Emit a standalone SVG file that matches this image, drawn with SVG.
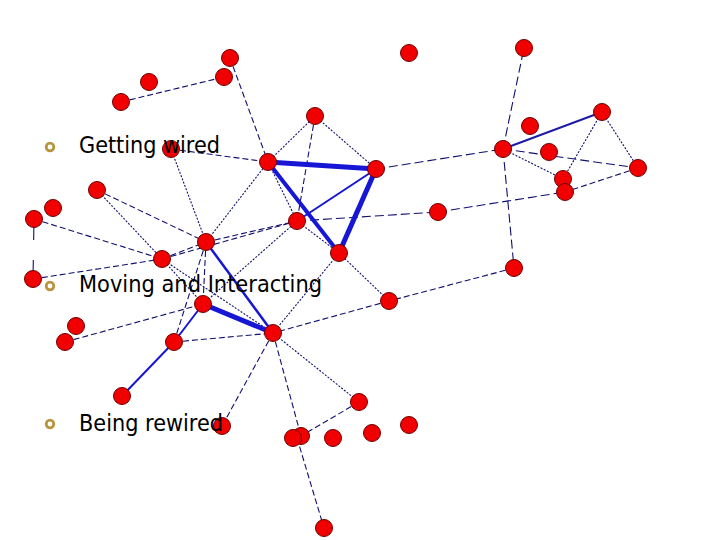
<svg xmlns="http://www.w3.org/2000/svg" width="720" height="540" viewBox="0 0 720 540">
<style>
.e{fill:none;stroke:#10106e;stroke-width:1.1}
.da{stroke-dasharray:6 3}
.dl{stroke-dasharray:9 4}
.dt{stroke-dasharray:2 1.5}
.b{fill:none;stroke:#1616d4}
.m{fill:none;stroke:#1c1ca8;stroke-width:2}
.n{fill:#f00000;stroke:#700000;stroke-width:1}
.t{font-family:"DejaVu Sans",Verdana,sans-serif;font-size:23px;fill:#000}
.bl{fill:none;stroke:#b8953f;stroke-width:2.8}
</style>
<rect width="720" height="540" fill="#fff"/>
<g id="connectors">
<line class="e da" x1="121" y1="102" x2="224" y2="77"/>
<line class="e da" x1="230" y1="58" x2="268" y2="162"/>
<line class="e da" x1="171" y1="149" x2="268" y2="162"/>
<line class="e dt" x1="171" y1="149" x2="206" y2="242"/>
<line class="e da" x1="97" y1="190" x2="206" y2="242"/>
<line class="e dt" x1="97" y1="190" x2="162" y2="259"/>
<line class="e da" x1="34" y1="219" x2="162" y2="259"/>
<line class="e" x1="34" y1="219" x2="33" y2="279" stroke-dasharray="21 20 40"/>
<line class="e da" x1="33" y1="279" x2="162" y2="259"/>
<line class="e dt" x1="268" y1="162" x2="315" y2="116"/>
<line class="e dt" x1="315" y1="116" x2="376" y2="169"/>
<line class="e da" x1="315" y1="116" x2="297" y2="221"/>
<line class="e dl" x1="376" y1="169" x2="503" y2="149"/>
<line class="e dl" x1="503" y1="149" x2="524" y2="48"/>
<line class="e dt" x1="602" y1="112" x2="563" y2="179"/>
<line class="e dt" x1="602" y1="112" x2="638" y2="168"/>
<line class="e dt" x1="503" y1="149" x2="563" y2="179"/>
<line class="e da" x1="638" y1="168" x2="565" y2="192"/>
<line class="e dl" x1="503" y1="149" x2="638" y2="168"/>
<line class="e dl" x1="438" y1="212" x2="565" y2="192"/>
<line class="e dl" x1="503" y1="149" x2="514" y2="268"/>
<line class="e dl" x1="297" y1="221" x2="438" y2="212"/>
<line class="e da" x1="514" y1="268" x2="389" y2="301"/>
<line class="e da" x1="389" y1="301" x2="273" y2="333"/>
<line class="e dt" x1="389" y1="301" x2="339" y2="253"/>
<line class="e dt" x1="273" y1="333" x2="339" y2="253"/>
<line class="e da" x1="273" y1="333" x2="222" y2="426"/>
<line class="e da" x1="273" y1="333" x2="301" y2="436"/>
<line class="e dt" x1="273" y1="333" x2="359" y2="402"/>
<line class="e da" x1="359" y1="402" x2="301" y2="436"/>
<line class="e da" x1="297" y1="438" x2="324" y2="528"/>
<line class="e da" x1="65" y1="342" x2="203" y2="304"/>
<line class="e da" x1="174" y1="342" x2="273" y2="333"/>
<line class="e dt" x1="162" y1="259" x2="273" y2="333"/>
<line class="e da" x1="162" y1="259" x2="297" y2="221"/>
<line class="e da" x1="206" y1="242" x2="297" y2="221"/>
<line class="e dt" x1="206" y1="242" x2="268" y2="162"/>
<line class="e da" x1="162" y1="259" x2="206" y2="242"/>
<line class="e da" x1="206" y1="242" x2="203" y2="304"/>
<line class="e da" x1="206" y1="242" x2="174" y2="342"/>
<line class="e dt" x1="203" y1="304" x2="297" y2="221"/>
<line class="e dt" x1="162" y1="259" x2="203" y2="304"/>
<line class="e dt" x1="268" y1="162" x2="297" y2="221"/>
<line class="e dt" x1="297" y1="221" x2="339" y2="253"/>
<line class="m" x1="503" y1="149" x2="602" y2="112"/>
<line class="b" x1="268" y1="162" x2="376" y2="169" stroke-width="5"/>
<line class="b" x1="268" y1="162" x2="339" y2="253" stroke-width="4"/>
<line class="b" x1="376" y1="169" x2="339" y2="253" stroke-width="5"/>
<line class="b" x1="376" y1="169" x2="297" y2="221" stroke-width="2"/>
<line class="b" x1="203" y1="304" x2="273" y2="333" stroke-width="5"/>
<line class="b" x1="206" y1="242" x2="273" y2="333" stroke-width="2.5"/>
<line class="b" x1="174" y1="342" x2="203" y2="304" stroke-width="2"/>
<line class="b" x1="122" y1="396" x2="174" y2="342" stroke-width="2"/>
</g>
<g id="nodes">
<circle id="nA" class="n" cx="230" cy="58" r="8.5"/>
<circle id="nB" class="n" cx="224" cy="77" r="8.5"/>
<circle id="nC" class="n" cx="149" cy="82" r="8.5"/>
<circle id="nD" class="n" cx="121" cy="102" r="8.5"/>
<circle id="nE" class="n" cx="409" cy="53" r="8.5"/>
<circle id="nF" class="n" cx="524" cy="48" r="8.5"/>
<circle id="nG" class="n" cx="315" cy="116" r="8.5"/>
<circle id="nH" class="n" cx="171" cy="149" r="8.5"/>
<circle id="nI" class="n" cx="268" cy="162" r="8.5"/>
<circle id="nJ" class="n" cx="376" cy="169" r="8.5"/>
<circle id="nK" class="n" cx="530" cy="126" r="8.5"/>
<circle id="nL" class="n" cx="602" cy="112" r="8.5"/>
<circle id="nM" class="n" cx="503" cy="149" r="8.5"/>
<circle id="nN" class="n" cx="549" cy="152" r="8.5"/>
<circle id="nO" class="n" cx="638" cy="168" r="8.5"/>
<circle id="nP" class="n" cx="563" cy="179" r="8.5"/>
<circle id="nQ" class="n" cx="565" cy="192" r="8.5"/>
<circle id="nR" class="n" cx="97" cy="190" r="8.5"/>
<circle id="nS" class="n" cx="53" cy="208" r="8.5"/>
<circle id="nT" class="n" cx="34" cy="219" r="8.5"/>
<circle id="nU" class="n" cx="297" cy="221" r="8.5"/>
<circle id="nV" class="n" cx="438" cy="212" r="8.5"/>
<circle id="nW" class="n" cx="206" cy="242" r="8.5"/>
<circle id="nX" class="n" cx="162" cy="259" r="8.5"/>
<circle id="nY" class="n" cx="339" cy="253" r="8.5"/>
<circle id="nZ" class="n" cx="514" cy="268" r="8.5"/>
<circle id="nAA" class="n" cx="33" cy="279" r="8.5"/>
<circle id="nAB" class="n" cx="389" cy="301" r="8.5"/>
<circle id="nAC" class="n" cx="203" cy="304" r="8.5"/>
<circle id="nAD" class="n" cx="76" cy="326" r="8.5"/>
<circle id="nAE" class="n" cx="65" cy="342" r="8.5"/>
<circle id="nAF" class="n" cx="174" cy="342" r="8.5"/>
<circle id="nAG" class="n" cx="273" cy="333" r="8.5"/>
<circle id="nAH" class="n" cx="122" cy="396" r="8.5"/>
<circle id="nAI" class="n" cx="359" cy="402" r="8.5"/>
<circle id="nAJ" class="n" cx="222" cy="426" r="8.5"/>
<circle id="nAK2" class="n" cx="301" cy="436" r="8.5"/>
<circle id="nAK" class="n" cx="293" cy="438" r="8.5"/>
<circle id="nAL" class="n" cx="333" cy="438" r="8.5"/>
<circle id="nAM" class="n" cx="372" cy="433" r="8.5"/>
<circle id="nAN" class="n" cx="409" cy="425" r="8.5"/>
<circle id="nAO" class="n" cx="324" cy="528" r="8.5"/>
</g>
<g id="legend">
<circle class="bl" cx="50" cy="147" r="3.8"/>
<circle class="bl" cx="50" cy="286" r="3.8"/>
<circle class="bl" cx="50" cy="424" r="3.8"/>
<text class="t" x="79" y="153" textLength="141" lengthAdjust="spacingAndGlyphs">Getting wired</text>
<text class="t" x="79" y="292" textLength="243" lengthAdjust="spacingAndGlyphs">Moving and Interacting</text>
<text class="t" x="79" y="431" textLength="144" lengthAdjust="spacingAndGlyphs">Being rewired</text>
</g>
</svg>
